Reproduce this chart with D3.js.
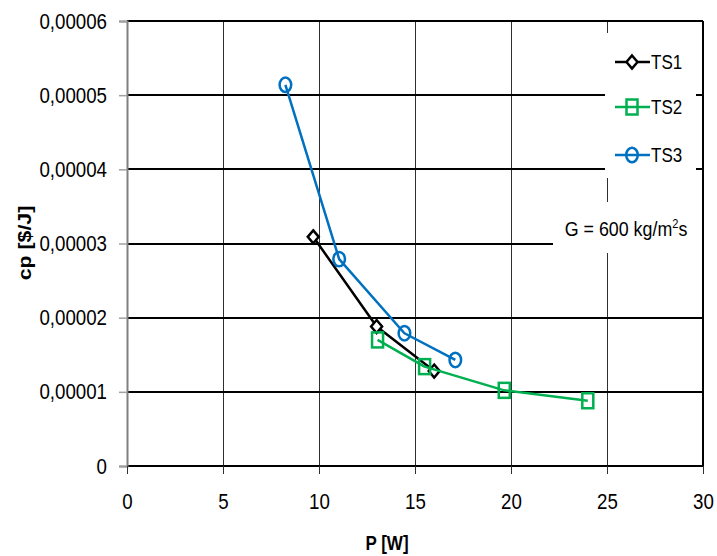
<!DOCTYPE html>
<html>
<head>
<meta charset="utf-8">
<script src="https://cdn.jsdelivr.net/npm/d3@7"></script>
<style>
  body { margin: 0; background: #fff; }
  text { font-family: "Liberation Sans", Arial, sans-serif; }
</style>
</head>
<body>
<script>
//
// DATA
const seriesNames = [ 'TS1', 'TS2', 'TS3' ];
const ts1P = [ 9.7, 13.0, 16.0 ];
const ts1Cp = [ 0.0000309, 0.0000188, 0.0000128 ];
const ts2P = [ 13.05, 15.5, 19.65, 24.0 ];
const ts2Cp = [ 0.0000170, 0.0000134, 0.0000102, 0.0000088 ];
const ts3P = [ 8.25, 11.05, 14.45, 17.1 ];
const ts3Cp = [ 0.0000514, 0.0000279, 0.0000179, 0.0000143 ];
const xTicks = [ 0, 5, 10, 15, 20, 25, 30 ];
const yTicks = [ 0, 0.00001, 0.00002, 0.00003, 0.00004, 0.00005, 0.00006 ];
const yTickLabels = [ '0', '0,00001', '0,00002', '0,00003', '0,00004', '0,00005', '0,00006' ];
//
// SIZES
const WIDTH = 717;
const HEIGHT = 556;
const LEFT = 127, RIGHT = 703, TOP = 21, BOTTOM = 466;
const FONT = 22;
const SQUEEZE = 0.85; // the picture is stretched vertically, so text is narrow

const svg = d3.select( 'body' ).append( 'svg' )
    .attr( 'width', WIDTH )
    .attr( 'height', HEIGHT );

const x = d3.scaleLinear().domain( [ 0, 30 ] ).range( [ LEFT, RIGHT ] );
const y = d3.scaleLinear().domain( [ 0, 0.00006 ] ).range( [ BOTTOM, TOP ] );

// narrow text placed at (px, py)
function narrowText( px, py, size, anchor ) {
    return svg.append( 'g' )
        .attr( 'transform', 'translate(' + px + ',' + py + ') scale(' + SQUEEZE + ',1)' )
        .append( 'text' )
        .attr( 'text-anchor', anchor )
        .attr( 'font-size', size );
}

//
// VERTICAL GRID
svg.append( 'g' ).selectAll( 'line' )
    .data( xTicks.slice( 1 ) )
    .enter().append( 'line' )
    .attr( 'x1', d => d === 30 ? x( d ) : Math.round( x( d ) ) + 0.5 )
    .attr( 'x2', d => d === 30 ? x( d ) : Math.round( x( d ) ) + 0.5 )
    .attr( 'y1', TOP ).attr( 'y2', BOTTOM )
    .attr( 'stroke', d => d === 30 ? '#000' : '#303030' )
    .attr( 'stroke-width', d => d === 30 ? 2 : 1 );

//
// HORIZONTAL GRID
svg.append( 'g' ).selectAll( 'line' )
    .data( yTicks )
    .enter().append( 'line' )
    .attr( 'x1', LEFT ).attr( 'x2', RIGHT )
    .attr( 'y1', d => Math.round( y( d ) ) ).attr( 'y2', d => Math.round( y( d ) ) )
    .attr( 'stroke', '#000' )
    .attr( 'stroke-width', 2 );

//
// AXES
const yAxis = svg.append( 'g' )
    .attr( 'transform', 'translate(' + LEFT + ',0)' )
    .call( d3.axisLeft( y ).tickValues( yTicks ).tickSize( 8 ).tickPadding( 12 )
        .tickFormat( ( d, i ) => yTickLabels[ i ] ) );
yAxis.select( '.domain' ).attr( 'stroke', '#808080' ).attr( 'stroke-width', 2 );
yAxis.selectAll( '.tick line' ).attr( 'stroke', '#a0a0a0' ).attr( 'stroke-width', 1.5 );
yAxis.selectAll( '.tick text' )
    .attr( 'font-size', FONT ).attr( 'fill', '#000' )
    .attr( 'font-family', '"Liberation Sans", Arial, sans-serif' )
    .attr( 'x', -20 / SQUEEZE )
    .attr( 'transform', 'scale(' + SQUEEZE + ',1)' );

const xAxis = svg.append( 'g' )
    .attr( 'transform', 'translate(0,' + BOTTOM + ')' )
    .call( d3.axisBottom( x ).tickValues( xTicks ).tickSize( 8 ).tickPadding( 19 ) );
xAxis.select( '.domain' ).remove();
xAxis.selectAll( '.tick line' ).attr( 'stroke', '#303030' ).attr( 'stroke-width', 1 );
xAxis.selectAll( '.tick text' )
    .attr( 'font-size', FONT ).attr( 'fill', '#000' )
    .attr( 'font-family', '"Liberation Sans", Arial, sans-serif' )
    .attr( 'transform', 'scale(' + SQUEEZE + ',1)' );

//
// AXIS TITLES
svg.append( 'g' )
    .attr( 'transform', 'translate(31,243) rotate(-90) scale(1.12,1)' )
    .append( 'text' )
    .attr( 'text-anchor', 'middle' )
    .attr( 'font-size', 19 )
    .attr( 'font-weight', 'bold' )
    .text( 'cp [$/J]' );
narrowText( 387, 550, 20, 'middle' )
    .attr( 'font-weight', 'bold' )
    .text( 'P [W]' );

//
// LABEL BOXES
svg.append( 'rect' )
    .attr( 'x', 605 ).attr( 'y', 33 ).attr( 'width', 91 ).attr( 'height', 145 )
    .attr( 'fill', '#fff' );
svg.append( 'rect' )
    .attr( 'x', 553 ).attr( 'y', 202 ).attr( 'width', 149 ).attr( 'height', 51 )
    .attr( 'fill', '#fff' );
const gLabel = narrowText( 626, 236, 21, 'middle' );
gLabel.append( 'tspan' ).text( 'G = 600 kg/m' );
gLabel.append( 'tspan' ).attr( 'font-size', 13 ).attr( 'dy', -8 ).text( '2' );
gLabel.append( 'tspan' ).attr( 'dy', 8 ).text( 's' );

//
// SERIES
const series = [
    { name: seriesNames[ 0 ], xs: ts1P, ys: ts1Cp, color: '#000000', marker: 'diamond' },
    { name: seriesNames[ 1 ], xs: ts2P, ys: ts2Cp, color: '#00b050', marker: 'square' },
    { name: seriesNames[ 2 ], xs: ts3P, ys: ts3Cp, color: '#0070c0', marker: 'circle' }
];

const line = d3.line()
    .x( d => x( d[ 0 ] ) )
    .y( d => y( d[ 1 ] ) );

function drawMarker( g, type, cx, cy, color ) {
    if ( type === 'diamond' ) {
        g.append( 'path' )
            .attr( 'd', 'M' + cx + ',' + ( cy - 6.5 ) + 'L' + ( cx + 5.5 ) + ',' + cy +
                'L' + cx + ',' + ( cy + 6.5 ) + 'L' + ( cx - 5.5 ) + ',' + cy + 'Z' )
            .attr( 'fill', '#fff' ).attr( 'stroke', color ).attr( 'stroke-width', 2.5 );
    } else if ( type === 'square' ) {
        g.append( 'rect' )
            .attr( 'x', cx - 5.5 ).attr( 'y', cy - 7.5 ).attr( 'width', 11 ).attr( 'height', 15 )
            .attr( 'fill', 'none' ).attr( 'stroke', color ).attr( 'stroke-width', 2.5 );
    } else {
        g.append( 'ellipse' )
            .attr( 'cx', cx ).attr( 'cy', cy ).attr( 'rx', 5.8 ).attr( 'ry', 7.2 )
            .attr( 'fill', 'none' ).attr( 'stroke', color ).attr( 'stroke-width', 2.5 );
    }
}

series.forEach( function ( s ) {
    const pts = s.xs.map( ( v, i ) => [ v, s.ys[ i ] ] );
    const g = svg.append( 'g' );
    g.append( 'path' )
        .attr( 'd', line( pts ) )
        .attr( 'fill', 'none' )
        .attr( 'stroke', s.color )
        .attr( 'stroke-width', 2.5 )
        .attr( 'stroke-linejoin', 'round' );
    pts.forEach( function ( p ) {
        drawMarker( g, s.marker, x( p[ 0 ] ), y( p[ 1 ] ), s.color );
    });
});

//
// LEGEND
const legendY = [ 62, 107, 155 ];
series.forEach( function ( s, i ) {
    const g = svg.append( 'g' );
    g.append( 'line' )
        .attr( 'x1', 615 ).attr( 'x2', 650 )
        .attr( 'y1', legendY[ i ] ).attr( 'y2', legendY[ i ] )
        .attr( 'stroke', s.color ).attr( 'stroke-width', 2.5 );
    drawMarker( g, s.marker, 632, legendY[ i ], s.color );
    narrowText( 651, legendY[ i ], 20, 'start' )
        .attr( 'dy', '0.36em' )
        .text( s.name );
});
</script>
</body>
</html>
